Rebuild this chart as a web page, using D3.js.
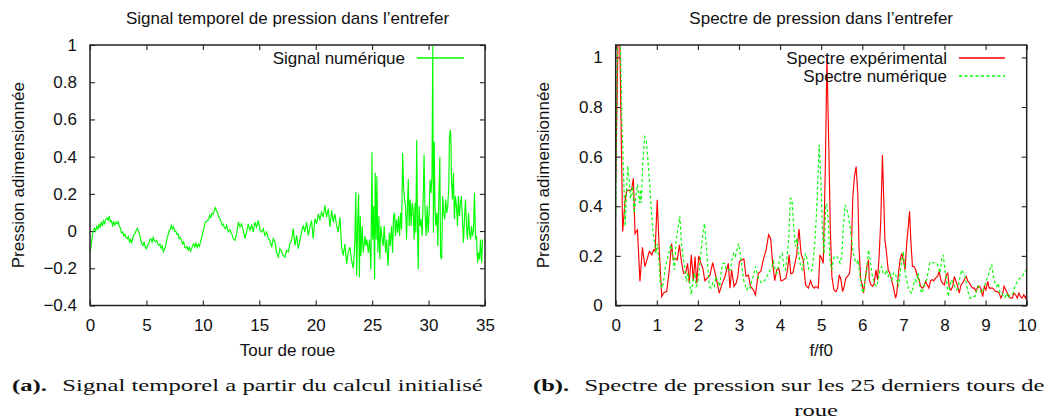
<!DOCTYPE html>
<html><head><meta charset="utf-8">
<script src="https://cdn.jsdelivr.net/npm/d3@7"></script>
<style>body{margin:0;background:#fff} svg{display:block}</style>
</head><body>
<svg id="c" width="1048" height="418"></svg>
<script>
// ---------- DATA ----------
const leftTitle = "Signal temporel de pression dans l\u2019entrefer";
const rightTitle = "Spectre de pression dans l\u2019entrefer";
const leftXLabel = "Tour de roue";
const rightXLabel = "f/f0";
const yLabel = "Pression adimensionnée";
const leftXTicks = [0,5,10,15,20,25,30,35];
const leftYTicks = [-0.4,-0.2,0,0.2,0.4,0.6,0.8,1];
const leftYTickLabels = ["\u22120.4","\u22120.2","0","0.2","0.4","0.6","0.8","1"];
const rightXTicks = [0,1,2,3,4,5,6,7,8,9,10];
const rightYTicks = [0,0.2,0.4,0.6,0.8,1];
const rightYTickLabels = ["0","0.2","0.4","0.6","0.8","1"];
const legendLeft = ["Signal numérique"];
const legendRight = ["Spectre expérimental","Spectre numérique"];
const captionA = ["(a).", "Signal temporel a partir du calcul initialisé"];
const captionB = ["(b).", "Spectre de pression sur les 25 derniers tours de", "roue"];

// Signal numérique : [tour, pression]
const signalNumerique = [
[0,-0.11],[0.1,-0.08],[0.2,-0.03],[0.3,0.005],[0.4,0.015],[0.5,0],[0.6,0.025],[0.7,0.012],[0.8,0.035],[0.9,0.02],
[1,0.045],[1.1,0.03],[1.2,0.055],[1.3,0.04],[1.4,0.065],[1.5,0.07],[1.6,0.058],[1.7,0.082],[1.8,0.05],[1.9,0.055],
[2,0.03],[2.1,0.05],[2.2,0.032],[2.3,0.048],[2.4,0.04],[2.5,0.05],[2.6,0.025],[2.7,0.015],[2.8,-0.01],[2.9,-0.005],
[3,-0.025],[3.1,-0.018],[3.2,-0.035],[3.3,-0.04],[3.4,-0.03],[3.5,-0.058],[3.6,-0.045],[3.7,-0.062],[3.8,-0.035],[3.9,-0.02],
[4,-0.01],[4.1,0.005],[4.2,0.015],[4.3,-0.002],[4.4,-0.02],[4.5,-0.048],[4.6,-0.07],[4.7,-0.078],[4.8,-0.058],[4.9,-0.088],
[5,-0.095],[5.1,-0.075],[5.2,-0.072],[5.3,-0.045],[5.4,-0.042],[5.5,-0.06],[5.6,-0.035],[5.7,-0.052],[5.8,-0.058],[5.9,-0.05],
[6,-0.068],[6.1,-0.078],[6.2,-0.07],[6.3,-0.092],[6.4,-0.08],[6.5,-0.112],[6.6,-0.098],[6.7,-0.08],[6.8,-0.048],[6.9,-0.025],
[7,0],[7.1,0.008],[7.2,0.032],[7.3,0.012],[7.4,0.022],[7.5,-0.002],[7.6,0],[7.7,-0.018],[7.8,-0.015],[7.9,-0.042],
[8,-0.035],[8.1,-0.05],[8.2,-0.068],[8.3,-0.058],[8.4,-0.088],[8.5,-0.092],[8.6,-0.082],[8.7,-0.102],[8.8,-0.088],[8.9,-0.108],
[9,-0.095],[9.1,-0.078],[9.2,-0.068],[9.3,-0.085],[9.4,-0.065],[9.5,-0.088],[9.6,-0.072],[9.7,-0.082],[9.8,-0.055],[9.9,-0.035],
[10,-0.005],[10.1,0.018],[10.2,0.045],[10.3,0.05],[10.4,0.058],[10.5,0.062],[10.6,0.085],[10.7,0.072],[10.8,0.095],[10.9,0.088],
[11,0.108],[11.1,0.125],[11.2,0.112],[11.3,0.098],[11.4,0.078],[11.5,0.068],[11.6,0.055],[11.7,0.032],[11.8,0.038],[11.9,0.018],
[12,0.013],[12.1,0.031],[12.25,-0.005],[12.4,0.008],[12.55,-0.014],[12.7,-0.041],[12.84,-0.05],[12.99,-0.014],[13.14,0.048],[13.29,0.022],
[13.43,0.039],[13.58,0.004],[13.73,-0.041],[13.88,-0.005],[14.02,0.039],[14.17,0.004],[14.32,0.031],[14.47,-0.005],[14.61,0.048],[14.76,0.022],
[14.91,0.057],[15.06,0.004],[15.21,-0.005],[15.35,0.013],[15.5,-0.023],[15.65,-0.005],[15.8,-0.041],[15.94,-0.05],[16.09,-0.086],[16.24,-0.041],
[16.39,-0.059],[16.53,-0.113],[16.68,-0.14],[16.83,-0.095],[16.98,-0.113],[17.12,-0.131],[17.27,-0.14],[17.42,-0.104],[17.57,-0.113],[17.71,-0.068],
[17.86,-0.05],[18.01,0.013],[18.16,-0.077],[18.31,-0.023],[18.45,-0.095],[18.6,-0.05],[18.75,-0.005],[18.9,0.031],[19.04,-0.005],[19.19,0.048],
[19.34,-0.023],[19.49,0.022],[19.63,0.057],[19.78,-0.041],[19.93,0.066],[20.08,0.039],[20.23,0.093],[20.37,0.057],[20.52,0.102],[20.67,0.075],
[20.82,0.138],[20.96,0.075],[21.11,0.12],[21.26,0.022],[21.41,0.111],[21.55,0.048],[21.7,0.093],[21.85,0.031],[22,-0.005],[22.15,0.075],
[22.29,-0.086],[22.44,-0.131],[22.59,-0.068],[22.74,-0.176],[22.88,-0.113],[23.03,-0.086],[23.18,-0.158],[23.33,-0.2],[23.47,-0.06],[23.55,0.21],
[23.63,-0.24],[23.72,0.05],[23.8,0.2],[23.87,-0.25],[23.95,0.08],[24,-0.134],[24.12,0.027],[24.21,-0.116],[24.36,-0.027],[24.45,-0.08],
[24.54,-0.045],[24.66,-0.116],[24.77,-0.045],[24.89,-0.205],[24.98,0.423],[25.04,-0.045],[25.13,0.134],[25.22,-0.259],[25.27,0.313],[25.36,-0.045],
[25.42,0.295],[25.51,-0.116],[25.6,0.08],[25.68,-0.152],[25.77,0.027],[25.89,-0.045],[25.98,-0.08],[26.07,0.027],[26.19,-0.116],[26.28,-0.045],
[26.36,-0.134],[26.42,-0.188],[26.51,-0.009],[26.6,-0.08],[26.72,0.027],[26.81,-0.116],[26.9,0.08],[26.98,0.098],[27.07,-0.027],[27.16,0.063],
[27.25,-0.009],[27.34,0.08],[27.43,-0.027],[27.52,0.098],[27.61,0.009],[27.7,0.42],[27.78,0.241],[27.87,0.17],[27.96,0.134],[28.05,-0.045],
[28.2,0.28],[28.28,0.027],[28.37,0.17],[28.46,0.027],[28.55,0.152],[28.64,0.116],[28.72,-0.045],[28.81,0.152],[28.87,-0.009],[28.95,0.49],
[29.02,0.027],[29.08,-0.205],[29.16,0.134],[29.25,0.027],[29.34,0.063],[29.43,-0.027],[29.52,0.17],[29.6,0.41],[29.69,0.098],[29.78,-0.027],
[29.87,0.134],[29.96,-0.009],[30.05,0.098],[30.13,0.277],[30.22,0.205],[30.3,0.295],[30.37,0.995],[30.43,-0.009],[30.5,0.48],[30.56,0.152],
[30.65,0.027],[30.74,0.098],[30.82,-0.08],[30.91,0.188],[31,0.4],[31.06,-0.134],[31.16,-0.152],[31.25,0.188],[31.34,0.098],[31.43,0.063],
[31.52,0.17],[31.61,0.098],[31.7,0.134],[31.79,0.241],[31.85,0.509],[31.93,0.545],[31.98,0.491],[32.03,0.277],[32.12,0.17],[32.2,0.313],
[32.29,0.063],[32.38,0.188],[32.47,0.134],[32.56,0.027],[32.64,0.188],[32.73,0.08],[32.82,0.152],[32.91,0.188],[33,0.063],[33.09,-0.063],
[33.18,0.063],[33.27,0.17],[33.36,0.027],[33.45,-0.045],[33.54,0.098],[33.63,-0.009],[33.72,-0.045],[33.8,0.027],[33.89,-0.027],[33.98,0.009],
[34.07,0.205],[34.16,-0.045],[34.25,-0.027],[34.34,-0.17],[34.43,-0.116],[34.52,-0.152],[34.6,-0.045],[34.7,-0.17],[34.78,-0.045]
];

// Spectre expérimental : [f/f0, pression]
const spectreExperimental = [
[0,0.5],[0.08,1.3],[0.17,0.298],[0.23,0.426],[0.27,0.466],[0.33,0.463],[0.39,0.47],[0.43,0.513],[0.47,0.29],[0.53,0.305],
[0.59,0.097],[0.65,0.235],[0.71,0.157],[0.77,0.19],[0.82,0.218],[0.88,0.204],[0.92,0.224],[0.96,0.22],[1.01,0.426],[1.06,0.224],
[1.12,0.036],[1.17,0.052],[1.24,0.056],[1.3,0.137],[1.36,0.25],[1.4,0.184],[1.46,0.19],[1.5,0.184],[1.55,0.245],[1.6,0.177],
[1.65,0.13],[1.7,0.13],[1.75,0.17],[1.79,0.09],[1.84,0.204],[1.89,0.1],[1.93,0.197],[1.97,0.09],[2.02,0.2],[2.07,0.171],
[2.12,0.15],[2.17,0.1],[2.23,0.11],[2.29,0.12],[2.36,0.173],[2.42,0.13],[2.47,0.09],[2.52,0.05],[2.58,0.083],[2.66,0.117],
[2.74,0.17],[2.78,0.07],[2.82,0.144],[2.88,0.077],[2.93,0.09],[2.97,0.117],[3.01,0.177],[3.06,0.184],[3.12,0.187],[3.17,0.117],
[3.23,0.122],[3.28,0.077],[3.35,0.063],[3.4,0.042],[3.47,0.13],[3.53,0.137],[3.59,0.184],[3.66,0.224],[3.72,0.285],[3.77,0.27],
[3.82,0.17],[3.87,0.1],[3.92,0.144],[3.97,0.15],[4.02,0.1],[4.08,0.103],[4.14,0.11],[4.18,0.144],[4.22,0.204],[4.26,0.128],
[4.31,0.131],[4.36,0.17],[4.4,0.2],[4.46,0.308],[4.51,0.21],[4.56,0.184],[4.62,0.083],[4.69,0.07],[4.74,0.1],[4.79,0.077],
[4.83,0.07],[4.87,0.077],[4.93,0.07],[4.97,0.204],[5.01,0.19],[5.05,0.17],[5.1,0.55],[5.14,1.0],[5.19,0.6],[5.22,0.32],
[5.26,0.117],[5.31,0.063],[5.36,0.056],[5.4,0.07],[5.44,0.124],[5.48,0.104],[5.52,0.056],[5.56,0.077],[5.6,0.11],[5.64,0.117],
[5.69,0.13],[5.73,0.21],[5.77,0.44],[5.81,0.52],[5.85,0.56],[5.89,0.45],[5.92,0.238],[5.96,0.104],[6,0.083],[6.03,0.05],
[6.07,0.104],[6.11,0.157],[6.15,0.184],[6.17,0.104],[6.21,0.083],[6.25,0.077],[6.29,0.09],[6.33,0.144],[6.37,0.104],[6.41,0.2],
[6.45,0.345],[6.49,0.607],[6.52,0.44],[6.55,0.265],[6.59,0.21],[6.63,0.144],[6.67,0.13],[6.71,0.104],[6.75,0.077],[6.81,0.03],
[6.84,0.05],[6.88,0.13],[6.92,0.184],[6.96,0.21],[7,0.184],[7.04,0.144],[7.08,0.25],[7.12,0.32],[7.15,0.38],[7.18,0.265],
[7.22,0.157],[7.26,0.157],[7.3,0.144],[7.34,0.117],[7.38,0.104],[7.42,0.077],[7.46,0.07],[7.5,0.077],[7.54,0.097],[7.58,0.083],
[7.62,0.07],[7.66,0.1],[7.7,0.104],[7.74,0.1],[7.78,0.11],[7.83,0.117],[7.87,0.137],[7.91,0.104],[7.95,0.09],[8,0.083],
[8.04,0.124],[8.08,0.13],[8.12,0.07],[8.16,0.063],[8.2,0.077],[8.24,0.117],[8.28,0.097],[8.32,0.077],[8.36,0.05],[8.4,0.083],
[8.44,0.09],[8.48,0.104],[8.53,0.117],[8.57,0.097],[8.61,0.09],[8.65,0.077],[8.69,0.07],[8.73,0.07],[8.77,0.056],[8.81,0.077],
[8.85,0.077],[8.89,0.066],[8.93,0.036],[8.97,0.077],[9.01,0.063],[9.05,0.097],[9.09,0.07],[9.13,0.07],[9.17,0.07],[9.21,0.063],
[9.25,0.056],[9.29,0.056],[9.33,0.05],[9.37,0.03],[9.41,0.043],[9.45,0.077],[9.49,0.063],[9.53,0.05],[9.57,0.036],[9.61,0.03],
[9.65,0.03],[9.69,0.05],[9.73,0.043],[9.77,0.03],[9.81,0.05],[9.85,0.036],[9.89,0.03],[9.93,0.043],[9.97,0.03],[10,0.043]
];

// Spectre numérique : [f/f0, pression]
const spectreNumerique = [
[0,0.36],[0.05,1.3],[0.1,1.2],[0.15,0.75],[0.23,0.32],[0.29,0.563],[0.33,0.507],[0.36,0.43],[0.41,0.48],[0.45,0.372],
[0.49,0.44],[0.53,0.487],[0.58,0.413],[0.6,0.466],[0.62,0.413],[0.66,0.574],[0.705,0.68],[0.745,0.667],[0.79,0.574],[0.83,0.48],
[0.87,0.372],[0.91,0.29],[0.95,0.25],[0.98,0.21],[1.01,0.25],[1.05,0.184],[1.09,0.083],[1.13,0.07],[1.17,0.104],[1.21,0.157],
[1.25,0.184],[1.29,0.21],[1.34,0.245],[1.39,0.198],[1.43,0.144],[1.47,0.265],[1.51,0.305],[1.56,0.36],[1.6,0.25],[1.64,0.198],
[1.68,0.15],[1.72,0.097],[1.76,0.131],[1.8,0.09],[1.84,0.043],[1.88,0.104],[1.92,0.131],[1.96,0.077],[2,0.09],[2.04,0.157],
[2.08,0.224],[2.12,0.29],[2.16,0.33],[2.2,0.25],[2.24,0.157],[2.28,0.077],[2.32,0.07],[2.36,0.09],[2.4,0.077],[2.44,0.117],
[2.49,0.097],[2.53,0.077],[2.57,0.144],[2.61,0.17],[2.65,0.17],[2.69,0.144],[2.73,0.144],[2.79,0.144],[2.83,0.184],[2.87,0.21],
[2.91,0.198],[2.95,0.224],[2.99,0.25],[3.03,0.21],[3.07,0.157],[3.11,0.104],[3.15,0.083],[3.19,0.063],[3.23,0.077],[3.27,0.07],
[3.31,0.104],[3.36,0.124],[3.4,0.157],[3.44,0.131],[3.48,0.104],[3.52,0.097],[3.56,0.09],[3.6,0.097],[3.64,0.104],[3.68,0.117],
[3.72,0.131],[3.76,0.144],[3.8,0.157],[3.84,0.177],[3.88,0.144],[3.92,0.13],[3.96,0.157],[4,0.198],[4.05,0.21],[4.09,0.157],
[4.13,0.144],[4.17,0.198],[4.21,0.265],[4.25,0.433],[4.29,0.426],[4.33,0.319],[4.37,0.238],[4.41,0.27],[4.45,0.21],[4.5,0.157],
[4.54,0.144],[4.58,0.184],[4.62,0.21],[4.66,0.184],[4.7,0.144],[4.74,0.137],[4.78,0.144],[4.82,0.21],[4.86,0.29],[4.9,0.42],
[4.95,0.648],[4.99,0.51],[5.03,0.305],[5.07,0.21],[5.11,0.41],[5.14,0.405],[5.18,0.32],[5.21,0.184],[5.26,0.144],[5.3,0.19],
[5.34,0.2],[5.38,0.198],[5.42,0.184],[5.46,0.17],[5.5,0.198],[5.54,0.32],[5.58,0.405],[5.62,0.39],[5.66,0.36],[5.7,0.32],
[5.74,0.265],[5.78,0.21],[5.82,0.184],[5.86,0.17],[5.9,0.184],[5.94,0.13],[5.98,0.077],[6.02,0.05],[6.07,0.104],[6.11,0.144],
[6.15,0.224],[6.19,0.184],[6.23,0.131],[6.27,0.104],[6.31,0.083],[6.35,0.077],[6.39,0.104],[6.43,0.144],[6.47,0.157],[6.51,0.13],
[6.55,0.124],[6.59,0.144],[6.63,0.117],[6.67,0.131],[6.72,0.104],[6.76,0.131],[6.8,0.131],[6.84,0.104],[6.88,0.077],[6.92,0.131],
[6.96,0.184],[7,0.218],[7.04,0.13],[7.08,0.104],[7.12,0.07],[7.16,0.056],[7.2,0.05],[7.24,0.077],[7.28,0.104],[7.32,0.097],
[7.36,0.131],[7.4,0.077],[7.44,0.05],[7.48,0.063],[7.52,0.09],[7.56,0.104],[7.6,0.131],[7.64,0.171],[7.69,0.177],[7.73,0.171],
[7.77,0.174],[7.81,0.171],[7.85,0.157],[7.89,0.131],[7.93,0.184],[7.97,0.204],[8.01,0.144],[8.05,0.104],[8.09,0.036],[8.13,0.077],
[8.17,0.104],[8.21,0.09],[8.25,0.077],[8.29,0.063],[8.33,0.07],[8.37,0.11],[8.42,0.144],[8.46,0.131],[8.5,0.117],[8.54,0.083],
[8.58,0.05],[8.62,0.03],[8.66,0.03],[8.7,0.036],[8.74,0.036],[8.78,0.063],[8.82,0.077],[8.86,0.063],[8.9,0.05],[8.94,0.063],
[8.98,0.077],[9.02,0.104],[9.06,0.117],[9.1,0.144],[9.15,0.164],[9.19,0.117],[9.23,0.09],[9.27,0.077],[9.31,0.09],[9.35,0.05],
[9.39,0.05],[9.43,0.036],[9.47,0.03],[9.51,0.05],[9.55,0.03],[9.59,0.043],[9.63,0.043],[9.67,0.05],[9.71,0.077],[9.75,0.09],
[9.79,0.104],[9.83,0.11],[9.87,0.11],[9.91,0.124],[9.95,0.137],[10,0.144]
];

// ---------- DRAWING ----------
const svg = d3.select("#c");
const FONT = "'Liberation Sans', Arial, Helvetica, sans-serif";
const FS = 17;
const INK = "#111";
const FRAME = "#222";

function panel(p) {
  const g = svg.append("g");
  const x = d3.scaleLinear().domain(p.xDomain).range([p.x0, p.x1]);
  const y = d3.scaleLinear().domain(p.yDomain).range([p.y1, p.y0]);
  const clipId = "clip-" + p.id;
  svg.append("clipPath").attr("id", clipId).append("rect")
    .attr("x", p.x0).attr("y", p.y0).attr("width", p.x1 - p.x0).attr("height", p.y1 - p.y0);

  const styleAxis = sel => {
    sel.select(".domain").remove();
    sel.selectAll(".tick line").attr("stroke", FRAME).attr("stroke-width", 1.1);
    sel.selectAll("text").attr("font-family", FONT).attr("font-size", FS).attr("fill", INK);
  };
  g.append("g").attr("transform", `translate(0,${p.y1})`)
    .call(d3.axisBottom(x).tickValues(p.xTicks).tickFormat(d => String(d)).tickSizeInner(-5).tickSizeOuter(0).tickPadding(13))
    .call(styleAxis);
  g.append("g").attr("transform", `translate(0,${p.y0})`)
    .call(d3.axisTop(x).tickValues(p.xTicks).tickFormat(() => "").tickSizeInner(-5).tickSizeOuter(0))
    .call(styleAxis);
  g.append("g").attr("transform", `translate(${p.x0},0)`)
    .call(d3.axisLeft(y).tickValues(p.yTicks).tickFormat((d, i) => p.yLabels[i]).tickSizeInner(-5).tickSizeOuter(0).tickPadding(13))
    .call(styleAxis);
  g.append("g").attr("transform", `translate(${p.x1},0)`)
    .call(d3.axisRight(y).tickValues(p.yTicks).tickFormat(() => "").tickSizeInner(-5).tickSizeOuter(0))
    .call(styleAxis);

  const line = d3.line().x(d => x(d[0])).y(d => y(d[1]));
  const dataG = g.append("g").attr("clip-path", `url(#${clipId})`);
  p.series.forEach(s => {
    dataG.append("path").datum(s.data).attr("d", line)
      .attr("fill", "none").attr("stroke", s.color).attr("stroke-width", 1.15)
      .attr("stroke-linejoin", "miter").attr("stroke-dasharray", s.dash || null);
  });

  g.append("rect").attr("x", p.x0).attr("y", p.y0).attr("width", p.x1 - p.x0).attr("height", p.y1 - p.y0)
    .attr("fill", "none").attr("stroke", FRAME).attr("stroke-width", 1.5);

  g.append("text").attr("x", (p.x0 + p.x1) / 2).attr("y", 24).attr("text-anchor", "middle")
    .attr("font-family", FONT).attr("font-size", FS).attr("fill", INK).text(p.title);
  g.append("text").attr("x", (p.x0 + p.x1) / 2).attr("y", 355.5).attr("text-anchor", "middle")
    .attr("font-family", FONT).attr("font-size", FS).attr("fill", INK).text(p.xLabel);
  g.append("text").attr("transform", `translate(${p.yLabelX},${(p.y0 + p.y1) / 2}) rotate(-90)`)
    .attr("text-anchor", "middle").attr("dominant-baseline", "central")
    .attr("font-family", FONT).attr("font-size", FS).attr("fill", INK).text(p.yLabel);

  p.series.forEach((s, i) => {
    const ly = p.legendY[i];
    g.append("text").attr("x", p.legendTextX).attr("y", ly + 6).attr("text-anchor", "end")
      .attr("font-family", FONT).attr("font-size", FS).attr("fill", INK).text(s.name);
    g.append("line").attr("x1", p.legendLine[0]).attr("x2", p.legendLine[1]).attr("y1", ly).attr("y2", ly)
      .attr("stroke", s.color).attr("stroke-width", 1.3).attr("stroke-dasharray", s.dash || null);
  });
}

panel({
  id: "a", x0: 90, x1: 485, y0: 45, y1: 305.5,
  xDomain: [0, 35], yDomain: [-0.4, 1],
  xTicks: leftXTicks, yTicks: leftYTicks, yLabels: leftYTickLabels,
  title: leftTitle, xLabel: leftXLabel, yLabel: yLabel, yLabelX: 18,
  series: [{ name: legendLeft[0], data: signalNumerique, color: "#00ff00" }],
  legendTextX: 405, legendLine: [417, 464], legendY: [58]
});

panel({
  id: "b", x0: 615.7, x1: 1026.7, y0: 45, y1: 305.5,
  xDomain: [0, 10], yDomain: [0, 1.05],
  xTicks: rightXTicks, yTicks: rightYTicks, yLabels: rightYTickLabels,
  title: rightTitle, xLabel: rightXLabel, yLabel: yLabel, yLabelX: 543,
  series: [
    { name: legendRight[0], data: spectreExperimental, color: "#ff0000" },
    { name: legendRight[1], data: spectreNumerique, color: "#00ff00", dash: "3,2.5" }
  ],
  legendTextX: 947, legendLine: [959, 1005], legendY: [58, 76]
});

// captions (serif, as in the LaTeX document) - glyphs widened to the reference's proportions
const SERIF = "'Liberation Serif', 'DejaVu Serif', serif";
const CAP_FS = 16;
const GAP = 10;
const capA = svg.append("text").attr("font-family", SERIF).attr("font-size", CAP_FS).attr("fill", INK);
capA.append("tspan").attr("font-weight", "bold").text(captionA[0]);
capA.append("tspan").attr("dx", GAP).text(captionA[1]);
const wA = capA.node().getBBox().width;
const sx = 471 / wA;
capA.attr("transform", `translate(12,390.7) scale(${sx},1)`);

const capB = svg.append("text").attr("font-family", SERIF).attr("font-size", CAP_FS).attr("fill", INK);
capB.append("tspan").attr("font-weight", "bold").text(captionB[0]);
capB.append("tspan").attr("dx", GAP).text(captionB[1]);
const wB = capB.node().getBBox().width;
const sxB = Math.min(sx, 512 / wB);
capB.attr("transform", `translate(533,390.7) scale(${sxB},1)`);
svg.append("text").attr("font-family", SERIF).attr("font-size", CAP_FS).attr("fill", INK)
  .attr("text-anchor", "middle").attr("transform", `translate(816,415.5) scale(${sxB},1)`)
  .text(captionB[2]);
</script>
</body></html>
